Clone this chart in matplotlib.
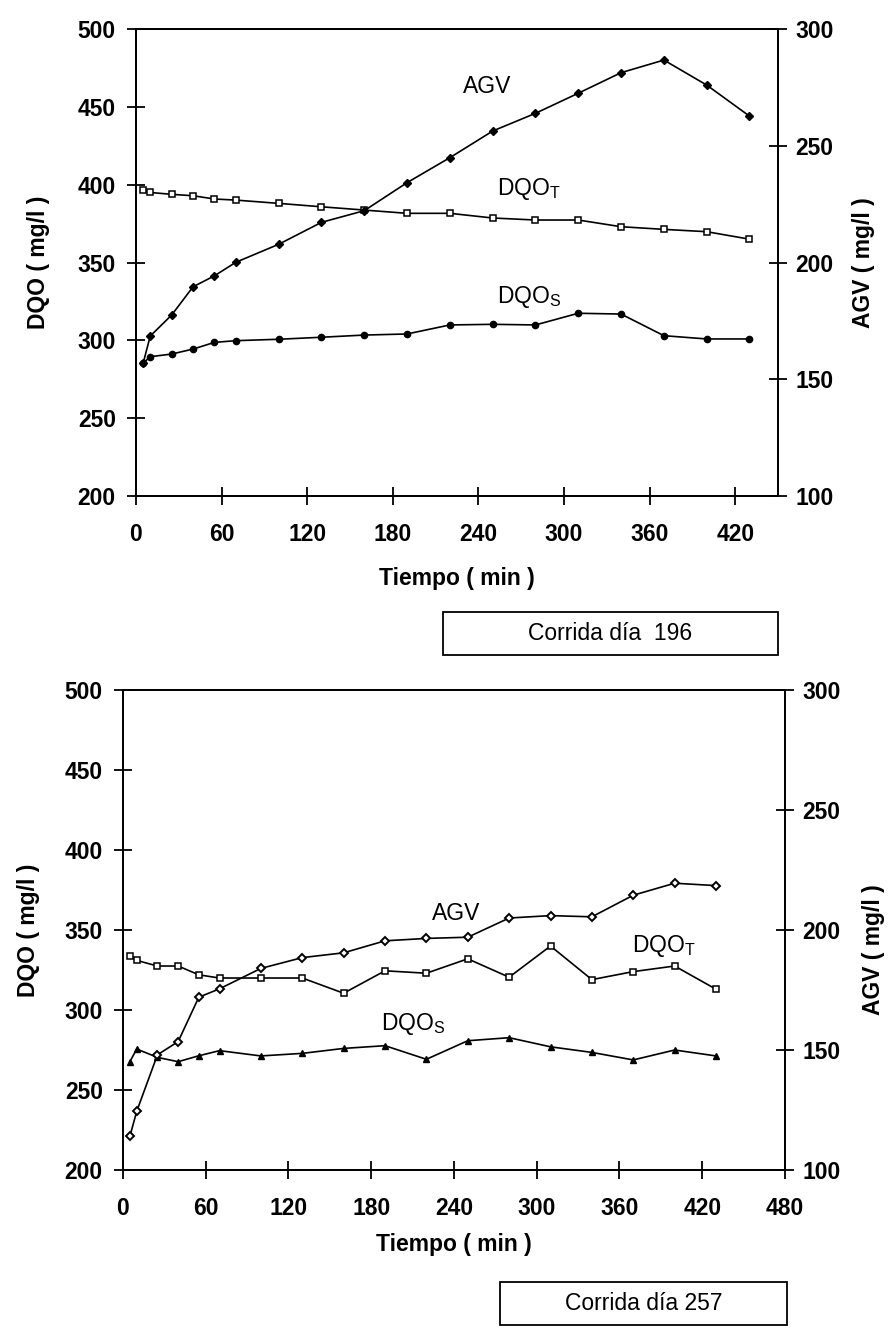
import matplotlib
matplotlib.use("Agg")
import matplotlib.pyplot as plt
from matplotlib.patches import Rectangle

plt.rcParams['font.family'] = ['Liberation Sans', 'DejaVu Sans']
plt.rcParams['mathtext.fontset'] = 'custom'
plt.rcParams['mathtext.rm'] = 'Liberation Sans'

# sampling times (min), same for both runs
tiempo = [5, 10, 25, 40, 55, 70, 100, 130, 160, 190, 220, 250, 280, 310, 340, 370, 400, 430]

# run day 196
dqo_t_196 = [396.6, 395, 393.8, 392.9, 390.8, 390.1, 388, 385.8, 383.7, 381.6, 381.6,
             378.6, 377.3, 377.3, 373, 371.3, 369.8, 365]
dqo_s_196 = [285.4, 289.5, 291.2, 294.4, 298.7, 299.8, 300.7, 302, 303.4, 304.1, 309.9,
             310.3, 309.9, 317.4, 316.9, 303, 300.9, 300.9]
agv_196 = [156.8, 168.5, 177.5, 189.6, 194.3, 200.1, 207.8, 217.2, 222.2, 234.2, 244.9,
           256.3, 263.9, 272.5, 281.3, 286.7, 276, 262.7]

# run day 257
dqo_t_257 = [333.5, 331, 327.5, 327.5, 322, 320, 320, 320, 310.5, 324.5, 323,
             332, 320.5, 340, 319, 324, 327.5, 313]
dqo_s_257 = [267.7, 275.6, 270.4, 267.7, 271.4, 274.6, 271.3, 272.9, 276, 277.7, 269.2,
             280.8, 282.7, 277, 273.5, 268.8, 275, 271.3]
agv_257 = [114, 124.5, 148, 153.5, 172, 175.5, 184, 188.5, 190.5, 195.5, 196.5,
           197, 205, 206, 205.5, 214.5, 219.5, 218.5]

dqo_ticks = [200, 250, 300, 350, 400, 450, 500]
agv_ticks = [100, 150, 200, 250, 300]

fig = plt.figure(figsize=(8.91, 13.37), dpi=100)

TICK = dict(direction='inout', length=13, width=1.3, labelsize=16.5)


def panel(rect, xmax, xticks, dqo_t, dqo_s, agv, agv_mk, s_mk, labels, ylab, xlab_y):
    ax = fig.add_axes(rect)
    ax2 = ax.twinx()
    ax.plot(tiempo, dqo_t, color='black', lw=1.2, marker='s', ms=5,
            mfc='white', mec='black', mew=1.1, zorder=3)
    ax.plot(tiempo, dqo_s, color='black', lw=1.2, marker=s_mk, ms=4.5,
            mfc='black', mec='black', zorder=3)
    ax2.plot(tiempo, agv, color='black', lw=1.2, **agv_mk)

    ax.set_xlim(0, xmax)
    ax.set_ylim(200, 500)
    ax2.set_ylim(100, 300)
    ax.set_xticks(xticks)
    ax.set_yticks(dqo_ticks)
    ax2.set_yticks(agv_ticks)

    for a in (ax, ax2):
        for sp in a.spines.values():
            sp.set_linewidth(1.3)
    ax.tick_params(axis='x', pad=13, **TICK)
    ax.tick_params(axis='y', pad=8, **TICK)
    ax2.tick_params(axis='y', pad=6, **TICK)
    for lab in ax.get_xticklabels() + ax.get_yticklabels() + ax2.get_yticklabels():
        lab.set_fontweight('bold')

    ax.set_xlabel('Tiempo ( min )', fontsize=16.5, fontweight='bold')
    ax.set_ylabel('DQO ( mg/l )', fontsize=16.5, fontweight='bold')
    ax2.set_ylabel('AGV ( mg/l )', fontsize=16.5, fontweight='bold')
    ax.xaxis.set_label_coords(0.5, xlab_y)
    ax.yaxis.set_label_coords(ylab[0], ylab[1])
    ax2.yaxis.set_label_coords(ylab[2], ylab[3])

    for txt, x, y in labels:
        ax.text(x, y, txt, fontsize=16.5, ha='left', va='baseline')
    return ax


panel([0.1526, 0.629, 0.7206, 0.3493], 450, [0, 60, 120, 180, 240, 300, 360, 420],
      dqo_t_196, dqo_s_196, agv_196,
      dict(marker='D', ms=4, mfc='black', mec='black'), 'o',
      [('AGV', 229, 459), (r'DQO$_\mathregular{T}$', 253, 393.5),
       (r'DQO$_\mathregular{S}$', 253, 324)],
      (-0.134, 0.5, 1.115, 0.5), -0.152)

panel([0.138, 0.1249, 0.743, 0.359], 480, [0, 60, 120, 180, 240, 300, 360, 420, 480],
      dqo_t_257, dqo_s_257, agv_257,
      dict(marker='D', ms=4, mfc='white', mec='black', mew=1.4), '^',
      [('AGV', 224, 356.3), (r'DQO$_\mathregular{T}$', 369, 336.3),
       (r'DQO$_\mathregular{S}$', 187, 287.5)],
      (-0.125, 0.5, 1.116, 0.46), -0.131)

# run labels in boxes
for (x0, y0, w, h), txt in [((0.4972, 0.5101, 0.376, 0.0322), 'Corrida día  196'),
                            ((0.5612, 0.0090, 0.3221, 0.0322), 'Corrida día 257')]:
    fig.patches.append(Rectangle((x0, y0), w, h, transform=fig.transFigure,
                                 fill=False, edgecolor='black', lw=1.3))
    fig.text(x0 + w / 2, y0 + h / 2, txt, ha='center', va='center', fontsize=16.5)

fig.savefig('out.png', dpi=100)
